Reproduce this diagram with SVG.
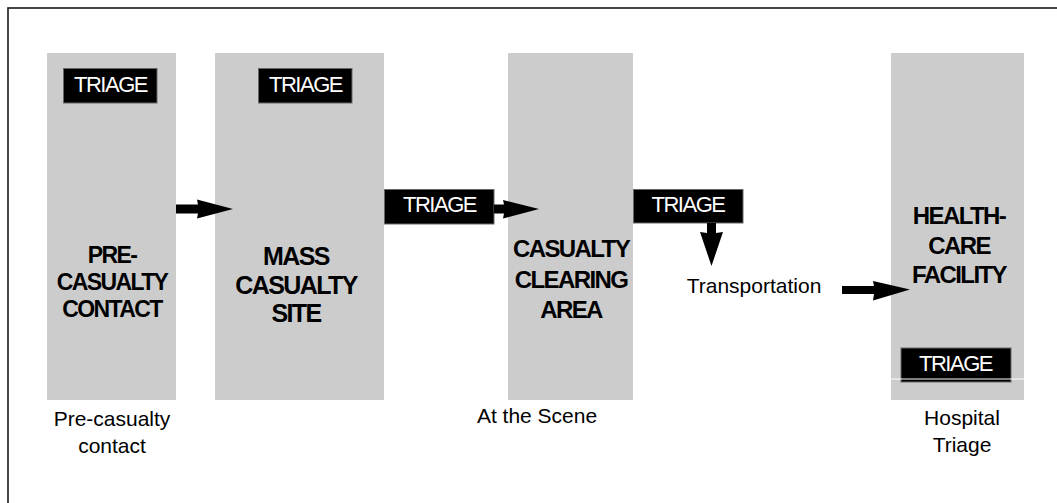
<svg xmlns="http://www.w3.org/2000/svg" width="1057" height="503" viewBox="0 0 1057 503">
<style>
.box{fill:#cccccc}
.tri{fill:#000;stroke:#666;stroke-width:1}
.trit{fill:#fff;font-family:"Liberation Sans",Arial,sans-serif;font-size:22px;letter-spacing:-1.5px;text-anchor:middle}
.big{fill:#000;font-family:"Liberation Sans",Arial,sans-serif;font-weight:bold;letter-spacing:-1.6px;text-anchor:middle}
.lab{fill:#000;font-family:"Liberation Sans",Arial,sans-serif;font-size:21px;text-anchor:middle}
.arr{fill:#000}
</style>
<rect x="8" y="8" width="1200" height="700" fill="#fff" stroke="#1a1a1a" stroke-width="1.6"/>

<g id="node-precasualty">
<rect class="box" x="47" y="53" width="129" height="347"/>
<rect class="tri" x="63.5" y="68.5" width="93.5" height="34.5"/>
<text class="trit" x="110.5" y="92">TRIAGE</text>
<text class="big" font-size="23" x="112" y="263">PRE-</text>
<text class="big" font-size="23" x="112" y="290">CASUALTY</text>
<text class="big" font-size="23" x="112" y="317">CONTACT</text>
</g>

<g id="node-mass">
<rect class="box" x="215" y="53" width="169" height="347"/>
<rect class="tri" x="258.5" y="68.5" width="93.5" height="34.5"/>
<text class="trit" x="305.5" y="92">TRIAGE</text>
<text class="big" font-size="25" x="296" y="265">MASS</text>
<text class="big" font-size="25" x="296" y="294">CASUALTY</text>
<text class="big" font-size="25" x="296" y="322">SITE</text>
</g>

<g id="node-clearing">
<rect class="box" x="508" y="53" width="125" height="347"/>
<text class="big" font-size="24" x="571" y="257">CASUALTY</text>
<text class="big" font-size="24" x="571" y="288">CLEARING</text>
<text class="big" font-size="24" x="571" y="318">AREA</text>
</g>

<g id="node-facility">
<rect class="box" x="891" y="53" width="133" height="347"/>
<text class="big" font-size="24" x="959" y="224">HEALTH-</text>
<text class="big" font-size="24" x="959" y="254">CARE</text>
<text class="big" font-size="24" x="959" y="283">FACILITY</text>
<rect class="tri" x="901" y="348" width="110" height="34"/>
<text class="trit" x="955.5" y="371">TRIAGE</text>
<line x1="891" y1="379" x2="1024" y2="379" stroke="#fff" stroke-width="1"/>
</g>

<g id="node-triage-scene">
<rect class="tri" x="384.5" y="189.5" width="109.5" height="34.5"/>
<text class="trit" x="439.5" y="212">TRIAGE</text>
</g>

<g id="node-triage-transport">
<rect class="tri" x="633.5" y="189.5" width="109.5" height="33.5"/>
<text class="trit" x="688" y="212">TRIAGE</text>
</g>

<g id="node-transportation">
<text class="lab" x="754" y="293">Transportation</text>
</g>

<g id="captions">
<text class="lab" x="112" y="426">Pre-casualty</text>
<text class="lab" x="112" y="453">contact</text>
<text class="lab" x="537" y="423">At the Scene</text>
<text class="lab" x="962" y="425">Hospital</text>
<text class="lab" x="962" y="452">Triage</text>
</g>

<g id="connectors">
<polygon class="arr" points="176,204.5 198,204.5 197,199.5 233,209 197,218.5 198,213.5 176,213.5"/>
<polygon class="arr" points="494,204.5 504,204.5 503,200 539,209 503,218.5 504,213.5 494,213.5"/>
<polygon class="arr" points="707,223 716,223 716,233 723,232 711.5,266 700,232 707,233"/>
<polygon class="arr" points="842,286 874,286 873,281 910,289.5 873,300.5 874,294 842,294"/>
</g>
</svg>
